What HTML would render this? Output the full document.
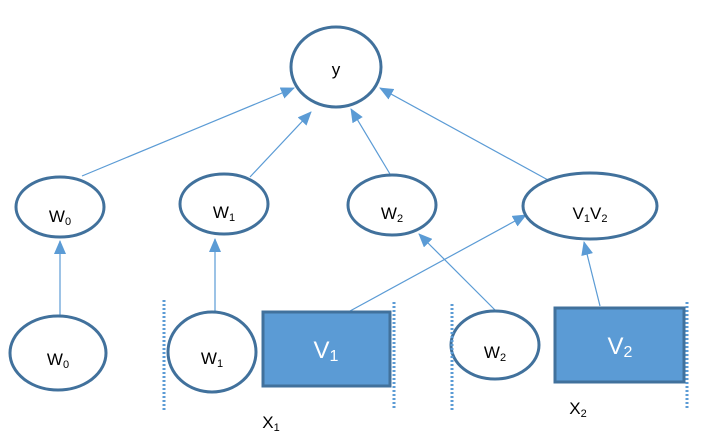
<!DOCTYPE html>
<html><head><style>html,body{margin:0;padding:0;background:#fff}svg{display:block}</style></head><body>
<svg width="703" height="437" viewBox="0 0 703 437" xmlns="http://www.w3.org/2000/svg" font-family="Liberation Sans, sans-serif">
<defs><marker id="a" markerWidth="14" markerHeight="12" refX="13" refY="6" orient="auto" markerUnits="userSpaceOnUse"><path d="M0,0 L14,6 L0,12 z" fill="#5b9bd5"/></marker></defs>
<g stroke="#5b9bd5" stroke-width="1.2" fill="none" marker-end="url(#a)">
<line x1="82" y1="176" x2="294" y2="88"/>
<line x1="250" y1="177" x2="311" y2="112"/>
<line x1="390" y1="174" x2="351" y2="109"/>
<line x1="548" y1="180" x2="380" y2="88"/>
<line x1="60" y1="315" x2="60" y2="241"/>
<line x1="215" y1="311" x2="215" y2="239"/>
<line x1="350" y1="311" x2="526" y2="215"/>
<line x1="497" y1="312" x2="419" y2="234"/>
<line x1="600" y1="306" x2="584" y2="242"/>
</g>
<g stroke="#41719c" stroke-width="3" fill="#fff">
<ellipse cx="336" cy="67" rx="45" ry="40"/>
<ellipse cx="60" cy="207" rx="44" ry="30"/>
<ellipse cx="224" cy="204" rx="44" ry="30"/>
<ellipse cx="392" cy="205" rx="44" ry="30"/>
<ellipse cx="590" cy="206" rx="67" ry="33"/>
<ellipse cx="58" cy="353" rx="48" ry="37"/>
<ellipse cx="212" cy="352" rx="44" ry="40"/>
<ellipse cx="495" cy="345" rx="44" ry="34"/>
</g>
<g stroke="#41719c" stroke-width="3" fill="#5b9bd5">
<rect x="263" y="312" width="127" height="74"/>
<rect x="555" y="308" width="129" height="74"/>
</g>
<g stroke="#5b9bd5" stroke-width="3" stroke-dasharray="2,2">
<line x1="164" y1="300" x2="164" y2="410"/>
<line x1="394" y1="302" x2="394" y2="410"/>
<line x1="452" y1="304" x2="452" y2="410"/>
<line x1="687" y1="302" x2="687" y2="408"/>
</g>
<g font-size="17" fill="#000" text-anchor="middle">
<text x="336" y="75">y</text>
<text x="60" y="222">W<tspan font-size="11" dy="3">0</tspan></text>
<text x="224" y="218">W<tspan font-size="11" dy="3">1</tspan></text>
<text x="392" y="219">W<tspan font-size="11" dy="3">2</tspan></text>
<text x="590" y="219">V<tspan font-size="11" dy="3">1</tspan><tspan dy="-3">V</tspan><tspan font-size="11" dy="3">2</tspan></text>
<text x="58" y="365">W<tspan font-size="11" dy="3">0</tspan></text>
<text x="212" y="364">W<tspan font-size="11" dy="3">1</tspan></text>
<text x="495" y="358">W<tspan font-size="11" dy="3">2</tspan></text>
<text x="271" y="428">X<tspan font-size="11" dy="3">1</tspan></text>
<text x="578" y="414">X<tspan font-size="11" dy="3">2</tspan></text>
</g>
<g font-size="24" fill="#fff" text-anchor="middle">
<text x="326" y="358">V<tspan font-size="16" dy="3">1</tspan></text>
<text x="620" y="354">V<tspan font-size="16" dy="3">2</tspan></text>
</g>
</svg>
</body></html>
